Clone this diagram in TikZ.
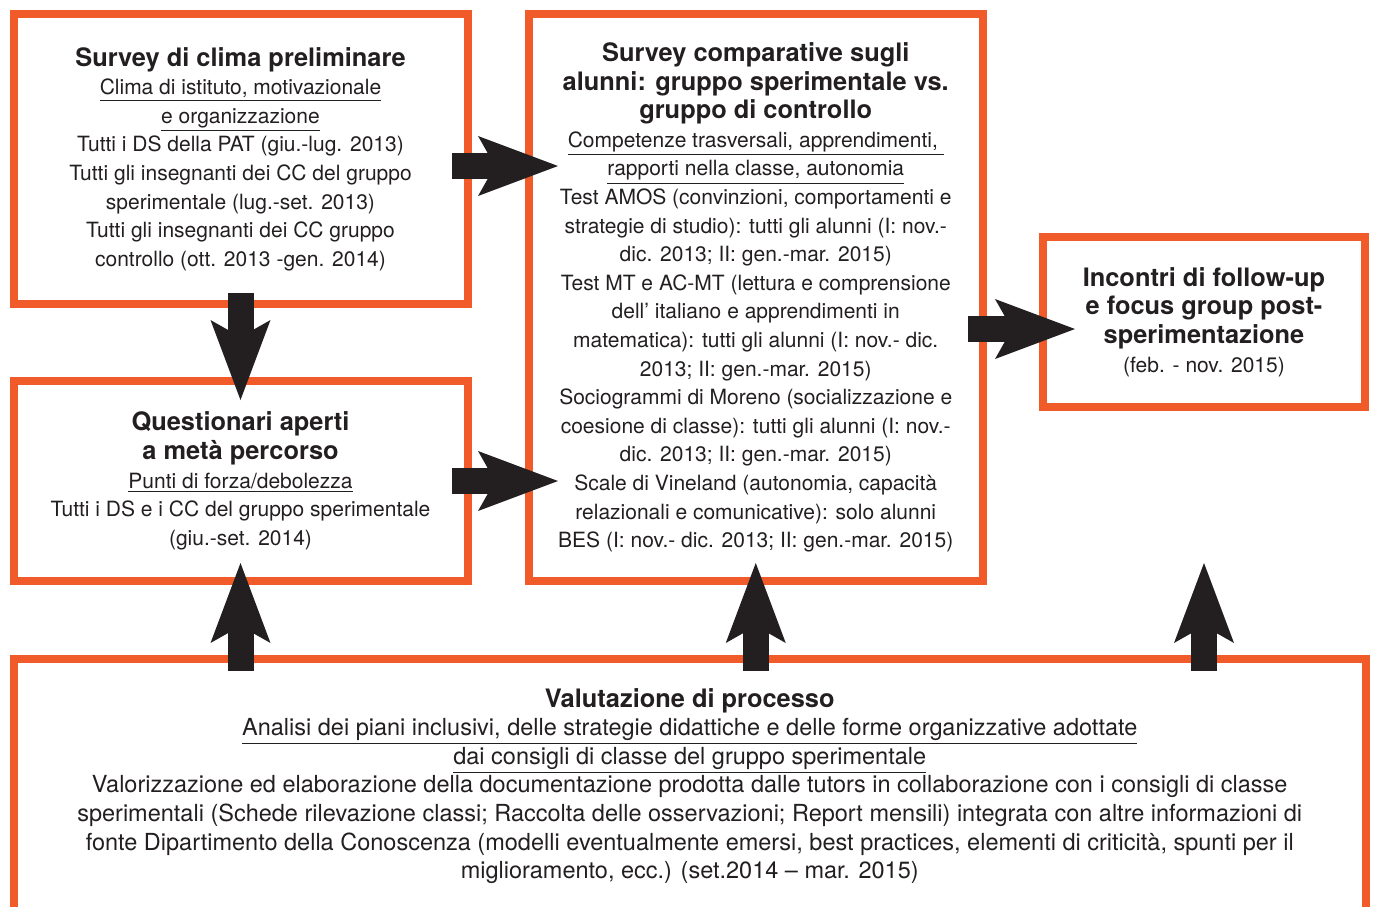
\documentclass[tikz,border=0pt]{standalone}
\usepackage{fontspec}
\setmainfont{TeX Gyre Heros}
\usetikzlibrary{arrows.meta,calc}
\definecolor{pborder}{HTML}{F15A29}
\definecolor{adark}{HTML}{231F20}

\newcommand{\ttl}[1]{{\fontsize{12.7}{14.3}\selectfont\bfseries #1}}
\newcommand{\ul}[1]{\underline{#1}}

\begin{document}
\begin{tikzpicture}[
  x=0.5pt, y=-0.5pt,
  panel/.style={draw=pborder, line width=4pt, inner sep=0pt, outer sep=0pt,
                align=center, text=adark, font=\fontsize{10.5}{14.3}\selectfont},
  fat/.style={draw=adark, line width=13pt,
              -{Stealth[length=40pt, width=30pt, inset=8.5pt, line width=0pt]}},
]
\useasboundingbox (0,0) rectangle (1376,906);

% ---- upper left column ----
\node[panel, minimum width=227pt, minimum height=145pt] (clima) at (240.5,159)
  {\ttl{Survey di clima preliminare}\\
   \ul{Clima di istituto, motivazionale}\\
   \ul{e organizzazione}\\
   Tutti i DS della PAT (giu.-lug. 2013)\\
   Tutti gli insegnanti dei CC del gruppo\\
   sperimentale (lug.-set. 2013)\\
   Tutti gli insegnanti dei CC gruppo\\
   controllo (ott. 2013 -gen. 2014)};
\node[panel, minimum width=227pt, minimum height=100pt] (quest) at (240.5,481)
  {\ttl{Questionari aperti}\\
   \ttl{a metà percorso}\\
   \ul{Punti di forza/debolezza}\\
   Tutti i DS e i CC del gruppo sperimentale\\
   (giu.-set. 2014)};

% ---- comparative survey ----
\node[panel, minimum width=227.25pt, minimum height=283.5pt] (comp) at (755.75,297.5)
  {\ttl{Survey comparative sugli}\\
   \ttl{alunni: gruppo sperimentale vs.}\\
   \ttl{gruppo di controllo}\\
   \ul{Competenze trasversali, apprendimenti,\ }\\
   \ul{rapporti nella classe, autonomia}\\
   Test AMOS (convinzioni, comportamenti e\\
   strategie di studio): tutti gli alunni (I: nov.-\\
   dic. 2013; II: gen.-mar. 2015)\\
   Test MT e AC-MT (lettura e comprensione\\
   dell’ italiano e apprendimenti in\\
   matematica): tutti gli alunni (I: nov.- dic.\\
   2013; II: gen.-mar. 2015)\\
   Sociogrammi di Moreno (socializzazione e\\
   coesione di classe): tutti gli alunni (I: nov.-\\
   dic. 2013; II: gen.-mar. 2015)\\
   Scale di Vineland (autonomia, capacità\\
   relazionali e comunicative): solo alunni\\
   BES (I: nov.- dic. 2013; II: gen.-mar. 2015)};

% ---- follow-up ----
\node[panel, minimum width=161pt, minimum height=85pt] (follow) at (1204,322)
  {\ttl{Incontri di follow-up}\\
   \ttl{e focus group post-}\\
   \ttl{sperimentazione}\\
   (feb. - nov. 2015)};

% ---- process evaluation (open at the bottom) ----
\node[panel, draw=none, minimum width=676.25pt, minimum height=127pt,
      font=\fontsize{11.75}{14.3}\selectfont] (proc) at (689.75,786)
  {\ttl{Valutazione di processo}\\
   \ul{Analisi dei piani inclusivi, delle strategie didattiche e delle forme organizzative adottate}\\
   \ul{dai consigli di classe del gruppo sperimentale}\\
   Valorizzazione ed elaborazione della documentazione prodotta dalle tutors in collaborazione con i consigli di classe\\
   sperimentali (Schede rilevazione classi; Raccolta delle osservazioni; Report mensili) integrata con altre informazioni di\\
   fonte Dipartimento della Conoscenza (modelli eventualmente emersi, best practices, elementi di criticità, spunti per il\\
   miglioramento, ecc.) (set.2014 – mar. 2015)};
\draw[draw=pborder, line width=4pt] (proc.south west) |- (proc.north) -| (proc.south east);

% ---- block arrows ----
\draw[fat] ([shift={(-15.5,7)}]clima.east) -- ($(comp.west |- clima.east)+(29.5,7)$);
\draw[fat] ([xshift=-7.75pt]quest.east) -- ($(comp.west |- quest.east)+(29.5,0)$);
\draw[fat] ($(comp.east |- follow.west)+(-15,7)$) -- ([shift={(32,7)}]follow.west);
\draw[fat] ([shift={(0,-11)}]clima.south) -- ([shift={(0,19)}]quest.north);
\foreach \t in {quest,comp}{
  \draw[fat] ($(proc.north -| \t.south)+(0,12)$) -- ([shift={(0,-18)}]\t.south);
}
\draw[fat] ($(proc.north -| follow.south)+(0,12)$) -- ([shift={(0,156)}]follow.south);
\end{tikzpicture}
\end{document}
